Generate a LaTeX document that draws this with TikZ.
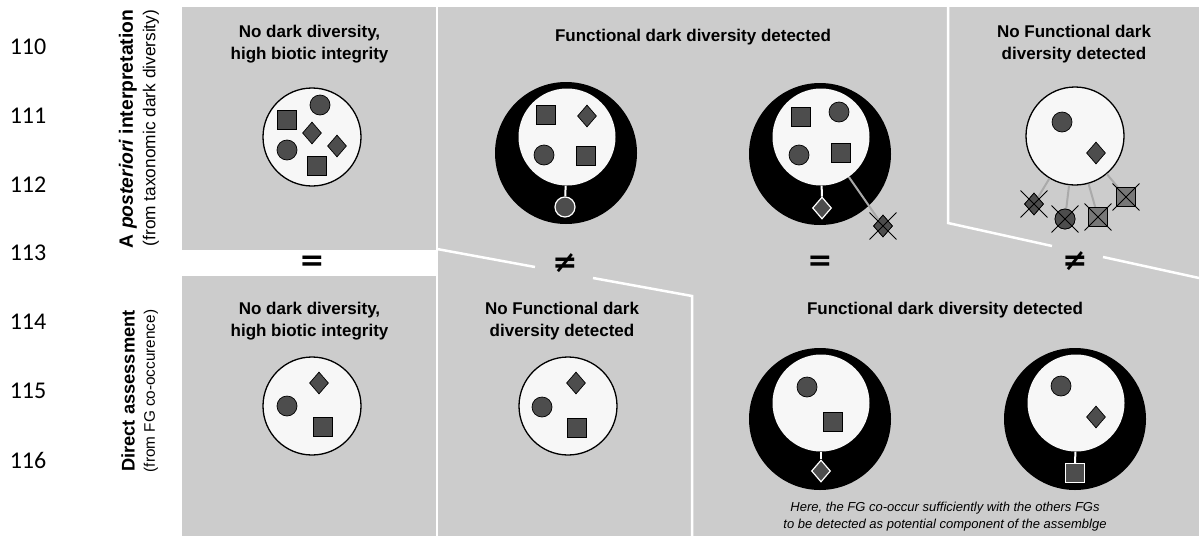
\documentclass[tikz,border=0pt]{standalone}
\usepackage{fontspec}
\setmainfont{Liberation Sans}
\newfontfamily\numfont{Carlito}
\newfontfamily\symfont{DejaVu Sans}
\usetikzlibrary{shapes.geometric,shapes.misc}
\definecolor{bggrey}{RGB}{204,204,204}
\definecolor{platewhite}{RGB}{247,247,247}
\definecolor{fgfill}{RGB}{77,77,77}
\definecolor{fglight}{RGB}{120,120,120}
\definecolor{linkgrey}{RGB}{170,170,170}
\tikzset{
 sepline/.style={draw=white, line width=2.5pt},
 platecirc/.style={circle, draw=black, line width=1.3pt, fill=platewhite, minimum size=98pt, inner sep=0pt},
 darkring/.style={circle, fill=black, minimum size=142pt, inner sep=0pt},
 innerplate/.style={circle, fill=platewhite, minimum size=97pt, inner sep=0pt},
 fg/.style={draw=black, line width=0.7pt, fill=fgfill, inner sep=0pt},
 fgsq/.style={fg, rectangle, minimum size=19pt},
 fgci/.style={fg, circle, minimum size=20pt},
 fgdi/.style={fg, diamond, minimum width=19pt, minimum height=22pt},
 attached/.style={draw=white, line width=1.2pt},
 wlink/.style={draw=white, line width=2pt},
 glink/.style={draw=linkgrey, line width=2pt},
 xmark/.style={cross out, draw=black, line width=0.9pt, minimum size=26pt, inner sep=0pt},
 paneltitle/.style={font=\bfseries\fontsize{17}{22}\selectfont, align=center},
 rowlab/.style={rotate=90, inner sep=0pt},
 lnum/.style={font=\numfont\fontsize{24}{28}\selectfont},
 relsym/.style={font=\symfont\bfseries\fontsize{30}{32}\selectfont, inner sep=0pt},
 notetext/.style={font=\itshape\fontsize{13}{17}\selectfont, align=center}
}
\begin{document}
\begin{tikzpicture}[x=1pt,y=-1pt]
\useasboundingbox (0,0) rectangle (1199,536);
\fill[white] (0,0) rectangle (1199,536);
% panels background
\fill[bggrey] (182,7) rectangle (1199,536);
\fill[white] (182,250) rectangle (437,276);
% separators
\draw[sepline] (437,7) -- (437,536);
\draw[sepline] (437,249) -- (535,267);
\draw[sepline] (593,278) -- (692,296) -- (692,536);
\draw[sepline] (948,7) -- (948,223) -- (1052,246);
\draw[sepline] (1103,257) -- (1199,278);

% line numbers
\node[lnum] (l110) at (28,47) {110};
\node[lnum] (l111) at (28,116) {111};
\node[lnum] (l112) at (28,185) {112};
\node[lnum] (l113) at (28,253) {113};
\node[lnum] (l114) at (28,322) {114};
\node[lnum] (l115) at (28,391) {115};
\node[lnum] (l116) at (28,460) {116};

% row labels
\node[rowlab, font=\bfseries\fontsize{19.3}{22}\selectfont] (rowA) at (128,129) {A \textit{posteriori} interpretation};
\node[rowlab, font=\fontsize{17.3}{20}\selectfont] (rowAs) at (151,128) {(from taxonomic dark diversity)};
\node[rowlab, font=\bfseries\fontsize{18.3}{22}\selectfont] (rowB) at (128,391) {Direct assessment};
\node[rowlab, font=\fontsize{15.3}{20}\selectfont] (rowBs) at (151,391) {(from FG co-occurence)};

% titles
\node[paneltitle] (t1) at (309.5,44) {No dark diversity,\\high biotic integrity};
\node[paneltitle] (t2) at (693,37) {Functional dark diversity detected};
\node[paneltitle] (t3) at (1074,44) {No Functional dark\\diversity detected};
\node[paneltitle] (t4) at (309.5,321) {No dark diversity,\\high biotic integrity};
\node[paneltitle] (t5) at (562,321) {No Functional dark\\diversity detected};
\node[paneltitle] (t6) at (945,310) {Functional dark diversity detected};
\node[notetext] (note) at (945,517) {Here, the FG co-occur sufficiently with the others FGs\\to be detected as potential component of the assemblge};

% relation symbols
\node[relsym] (eq1) at (312,263) {=};
\node[relsym] (ne1) at (565,263) {≠};
\node[relsym] (eq2) at (820,263) {=};
\node[relsym] (ne2) at (1075,261) {≠};

% --- top-left
\node[platecirc] (p1) at (312,137) {};
\node[fgsq] (p1a) at (287,120) {};
\node[fgci] (p1b) at (320,105) {};
\node[fgdi] (p1c) at (312,133) {};
\node[fgci] (p1d) at (287,150) {};
\node[fgdi] (p1e) at (337,146) {};
\node[fgsq] (p1f) at (317,166) {};

% --- top-middle ring 1
\node[darkring] (r1) at (566,153) {};
\node[innerplate] (i1) at (567,137) {};
\node[fgsq] (i1a) at (546,115) {};
\node[fgdi] (i1b) at (587,116) {};
\node[fgci] (i1c) at (544,155) {};
\node[fgsq] (i1d) at (586,156) {};
\node[fgci, attached] (a1) at (565,207) {};
\draw[wlink] (i1) -- (a1);

% --- top-middle ring 2
\node[darkring] (r2) at (820,154) {};
\node[innerplate] (i2) at (821,137) {};
\node[fgsq] (i2a) at (801,117) {};
\node[fgci] (i2b) at (839,112) {};
\node[fgci] (i2c) at (799,155) {};
\node[fgsq] (i2d) at (841,153) {};
\node[fgdi, attached] (a2) at (822,208) {};
\draw[wlink] (i2) -- (a2);
\node[fgdi] (x2) at (883,226) {};
\draw[glink] (i2) -- (x2);
\node[fgdi] (x2s) at (883,226) {};
\node[xmark] (x2m) at (883,226) {};

% --- top-right
\node[fgdi] (q1) at (1034,204) {};
\node[fgci] (q2) at (1065,219) {};
\node[fgsq, fill=fglight] (q3) at (1098,217) {};
\node[fgsq, fill=fglight] (q4) at (1126,197) {};
\node[platecirc] (p3) at (1075,136) {};
\draw[glink] (p3) -- (q1);
\draw[glink] (p3) -- (q2);
\draw[glink] (p3) -- (q3);
\draw[glink] (p3) -- (q4);
\node[fgdi] (q1s) at (1034,204) {};
\node[fgci] (q2s) at (1065,219) {};
\node[fgsq, fill=fglight] (q3s) at (1098,217) {};
\node[fgsq, fill=fglight] (q4s) at (1126,197) {};
\node[xmark] (q1m) at (1034,204) {};
\node[xmark] (q2m) at (1065,219) {};
\node[xmark] (q3m) at (1098,217) {};
\node[xmark] (q4m) at (1126,197) {};
\node[fgci] (p3a) at (1062,122) {};
\node[fgdi] (p3b) at (1096,153) {};

% --- bottom-left
\node[platecirc] (p4) at (312,406) {};
\node[fgdi] (p4a) at (319,383) {};
\node[fgci] (p4b) at (287,406) {};
\node[fgsq] (p4c) at (323,427) {};

% --- bottom-middle
\node[platecirc] (p5) at (568,406) {};
\node[fgdi] (p5a) at (576,383) {};
\node[fgci] (p5b) at (542,407) {};
\node[fgsq] (p5c) at (577,428) {};

% --- bottom-right ring A
\node[darkring] (rA) at (820,419) {};
\node[innerplate] (iA) at (821,403) {};
\node[fgci] (iAa) at (807,387) {};
\node[fgsq] (iAb) at (833,422) {};
\node[fgdi, attached] (aA) at (821,471) {};
\draw[wlink] (iA) -- (aA);

% --- bottom-right ring B
\node[darkring] (rB) at (1075,419) {};
\node[innerplate] (iB) at (1076,403) {};
\node[fgci] (iBa) at (1061,386) {};
\node[fgdi] (iBb) at (1096,417) {};
\node[fgsq, attached] (aB) at (1075,473) {};
\draw[wlink] (iB) -- (aB);
\end{tikzpicture}
\end{document}
